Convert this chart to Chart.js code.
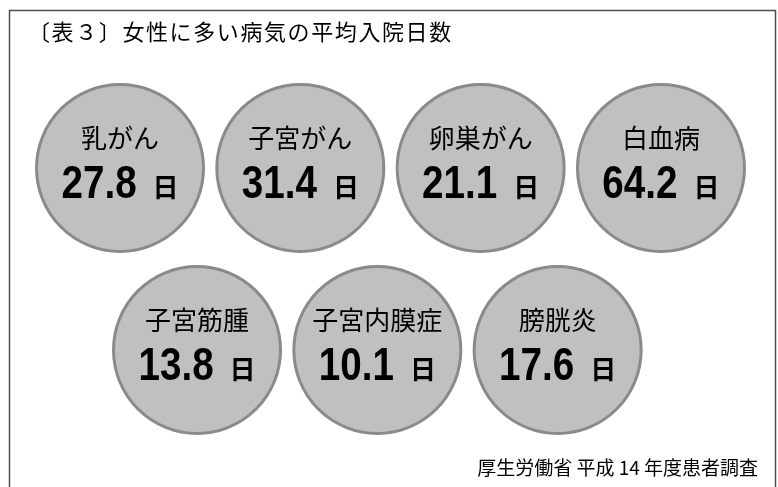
<!DOCTYPE html>
<html>
<head>
<meta charset="utf-8">
<script src="https://cdn.jsdelivr.net/npm/chart.js@4"></script>
<style>
  html, body { margin: 0; padding: 0; background: #fff; }
  canvas { display: block; }
</style>
</head>
<body>
<canvas id="myChart" width="778" height="487"></canvas>
<script>
// data
const titleText = '〔表３〕女性に多い病気の平均入院日数';
const sourceText = '厚生労働省 平成 14 年度患者調査';
const diseases = ['乳がん', '子宮がん', '卵巣がん', '白血病', '子宮筋腫', '子宮内膜症', '膀胱炎'];
const days = [27.8, 31.4, 21.1, 64.2, 13.8, 10.1, 17.6];
const unit = '日';

// layout: 4 circles in the first row, the rest in a second row shifted right
const perRow = 4;
const rowShift = 0.427;
const points = diseases.map(function (d, i) {
    const row = Math.floor(i / perRow);
    return { x: (i % perRow) + row * rowShift, y: row };
});

const jpFont = '"Noto Sans CJK JP", "Noto Sans CJK SC", sans-serif';
const numFont = '"Liberation Sans", Arial, sans-serif';
const numSqueeze = 0.84; // digits in the original are narrow

// frame, title, source and the text inside each circle
const textPlugin = {
    id: 'bubbleText',
    beforeDraw: function (chart) {
        const ctx = chart.ctx;
        ctx.save();
        ctx.fillStyle = '#fff';
        ctx.fillRect(0, 0, chart.width, chart.height);
        ctx.strokeStyle = '#4d4d4d';
        ctx.lineWidth = 1.5;
        ctx.beginPath();
        ctx.moveTo(9.5, chart.height + 5);
        ctx.lineTo(9.5, 10.5);
        ctx.lineTo(775.5, 10.5);
        ctx.lineTo(775.5, chart.height + 5);
        ctx.stroke();

        ctx.fillStyle = '#000';
        ctx.textBaseline = 'middle';
        ctx.textAlign = 'left';
        ctx.font = '22px ' + jpFont;
        ctx.letterSpacing = '1.6px';
        ctx.fillText(titleText, 28, 32);
        ctx.letterSpacing = '0px';

        ctx.textAlign = 'right';
        ctx.font = '19px ' + jpFont;
        ctx.fillText(sourceText, 758, 468);
        ctx.restore();
    },
    afterDatasetsDraw: function (chart) {
        const ctx = chart.ctx;
        const meta = chart.getDatasetMeta(0);
        ctx.save();
        ctx.fillStyle = '#000';
        meta.data.forEach(function (el, i) {
            const cx = el.x, cy = el.y;
            ctx.textAlign = 'center';
            ctx.textBaseline = 'middle';
            ctx.font = '26px ' + jpFont;
            ctx.fillText(diseases[i], cx, cy - 30);

            const numStr = days[i].toFixed(1);
            ctx.font = 'bold 46px ' + numFont;
            const numW = ctx.measureText(numStr).width * numSqueeze;
            ctx.font = 'bold 26px ' + jpFont;
            const unitW = ctx.measureText(unit).width;
            const gap = 16;
            const startX = cx - (numW + gap + unitW) / 2;
            ctx.textAlign = 'left';
            ctx.textBaseline = 'alphabetic';
            ctx.save();
            ctx.translate(startX, cy + 30);
            ctx.scale(numSqueeze, 1);
            ctx.font = 'bold 46px ' + numFont;
            ctx.fillText(numStr, 0, 0);
            ctx.restore();
            ctx.font = 'bold 26px ' + jpFont;
            ctx.fillText(unit, startX + numW + gap, cy + 29);
        });
        ctx.restore();
    }
};

const data = {
    datasets: [{
        label: '平均入院日数',
        data: points,
        radius: 83.5,
        backgroundColor: '#c0c0c0',
        borderColor: '#8a8a8a',
        borderWidth: 3,
        hoverRadius: 0
    }]
};

const config = {
    type: 'bubble',
    data,
    options: {
        responsive: false,
        animation: false,
        events: [],
        layout: { padding: 0, autoPadding: false },
        plugins: {
            legend: { display: false },
            tooltip: { enabled: false }
        },
        scales: {
            x: { type: 'linear', display: false, min: -0.6656, max: 3.649 },
            y: { type: 'linear', display: false, reverse: true, min: -0.923, max: 1.753 }
        }
    },
    plugins: [textPlugin]
};

const myChart = new Chart(document.getElementById('myChart'), config);
</script>
</body>
</html>
